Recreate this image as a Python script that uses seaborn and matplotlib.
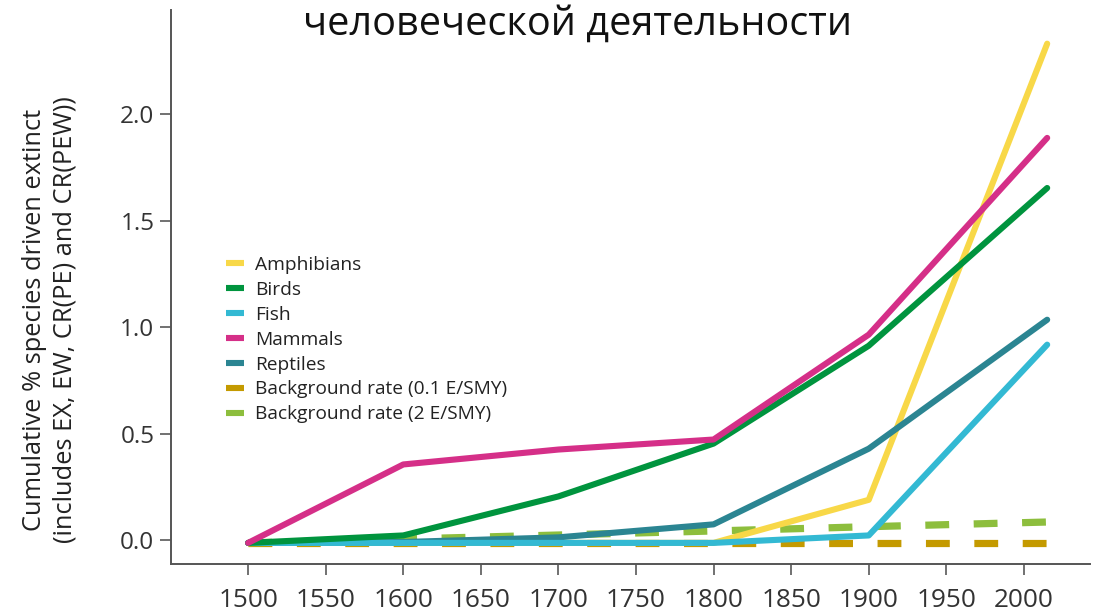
import matplotlib
matplotlib.use("Agg")
import matplotlib.pyplot as plt
from matplotlib.lines import Line2D
import pandas as pd
import seaborn as sns

# Years at which cumulative extinction percentages are reported
years = [1500, 1600, 1700, 1800, 1900, 2015]

amphibians = [-0.012, -0.012, -0.012, -0.012, 0.19, 2.33]
birds = [-0.012, 0.023, 0.206, 0.454, 0.913, 1.653]
fish = [-0.012, -0.012, -0.012, -0.012, 0.023, 0.918]
mammals = [-0.012, 0.356, 0.426, 0.473, 0.965, 1.888]
reptiles = [-0.012, -0.008, 0.014, 0.075, 0.43, 1.035]
bg_low = [-0.012, -0.012, -0.012, -0.012, -0.012, -0.012]
bg_high = [-0.012, 0.006, 0.025, 0.044, 0.064, 0.086]

series_names = [
    "Amphibians", "Birds", "Fish", "Mammals", "Reptiles",
    "Background rate (0.1 E/SMY)", "Background rate (2 E/SMY)",
]
series_values = [amphibians, birds, fish, mammals, reptiles, bg_low, bg_high]
colors = ["#F8D848", "#00943E", "#33B9D3", "#D52F88", "#2B8592", "#C49A00", "#8DBE3D"]
dashed = [False, False, False, False, False, True, True]

x_ticks = [1500, 1550, 1600, 1650, 1700, 1750, 1800, 1850, 1900, 1950, 2000]
y_ticks = [0.0, 0.5, 1.0, 1.5, 2.0]

title_text = "человеческой деятельности"
y_label = "Cumulative % species driven extinct\n(includes EX, EW, CR(PE) and CR(PEW))"

df = pd.DataFrame(
    [(n, y, v) for n, vals in zip(series_names, series_values) for y, v in zip(years, vals)],
    columns=["series", "year", "value"],
)

sns.set_style("white")
plt.rcParams["font.family"] = ["Open Sans", "DejaVu Sans"]

W, H = 1097, 613
fig = plt.figure(figsize=(W / 100, H / 100), dpi=100)
ax_left, ax_right, ax_top, ax_bottom = 171, 1090, 10, 564
ax = fig.add_axes([ax_left / W, 1 - ax_bottom / H,
                   (ax_right - ax_left) / W, (ax_bottom - ax_top) / H])

# dashed background rates go underneath the taxon lines
order = [5, 6, 0, 4, 2, 1, 3]
for i in order:
    sub = df[df["series"] == series_names[i]]
    if dashed[i]:
        sns.lineplot(data=sub, x="year", y="value", ax=ax, color=colors[i],
                     linewidth=5.2, legend=False, zorder=2)
        ln = ax.lines[-1]
        ln.set_dashes([3.3, 3.4])
        ln.set_dash_capstyle("butt")
    else:
        sns.lineplot(data=sub, x="year", y="value", ax=ax, color=colors[i],
                     linewidth=4.4, legend=False, zorder=3)

ax.set_xlim(1450.3, 2042.6)
ax.set_ylim(-0.111, 2.488)
ax.set_xticks(x_ticks)
ax.set_yticks(y_ticks)
ax.set_yticklabels([f"{t:.1f}" for t in y_ticks])
ax.set_xlabel("")
ax.set_ylabel(y_label, fontsize=18.3, color="#222222", linespacing=1.3)
ax.yaxis.label.set_verticalalignment("center")
ax.yaxis.set_label_coords((50 - ax_left) / (ax_right - ax_left),
                          (ax_bottom - 320) / (ax_bottom - ax_top))

for side in ["top", "right"]:
    ax.spines[side].set_visible(False)
for side in ["left", "bottom"]:
    ax.spines[side].set_color("#555555")
    ax.spines[side].set_linewidth(1.4)
ax.tick_params(axis="both", direction="out", length=8, width=1.3, color="#666666",
               labelcolor="#333333", left=True, bottom=True)
ax.tick_params(axis="y", labelsize=17.5, pad=4)
ax.tick_params(axis="x", labelsize=18.8, pad=9)

handles = [Line2D([0], [0], color=c, linewidth=4.4, solid_capstyle="butt") for c in colors]
leg = ax.legend(handles, series_names, loc="upper left",
                bbox_to_anchor=((226 - ax_left) / (ax_right - ax_left),
                                (ax_bottom - 256) / (ax_bottom - ax_top)),
                frameon=False, fontsize=13.8, handlelength=0.95, handletextpad=0.55,
                labelspacing=0.36, borderaxespad=0, borderpad=0)
for t in leg.get_texts():
    t.set_color("#222222")

fig.text(578 / W, 1 - 24 / H, title_text, ha="center", va="center",
         fontsize=28.5, color="#111111")

fig.savefig("out.png", dpi=100, facecolor="white")
